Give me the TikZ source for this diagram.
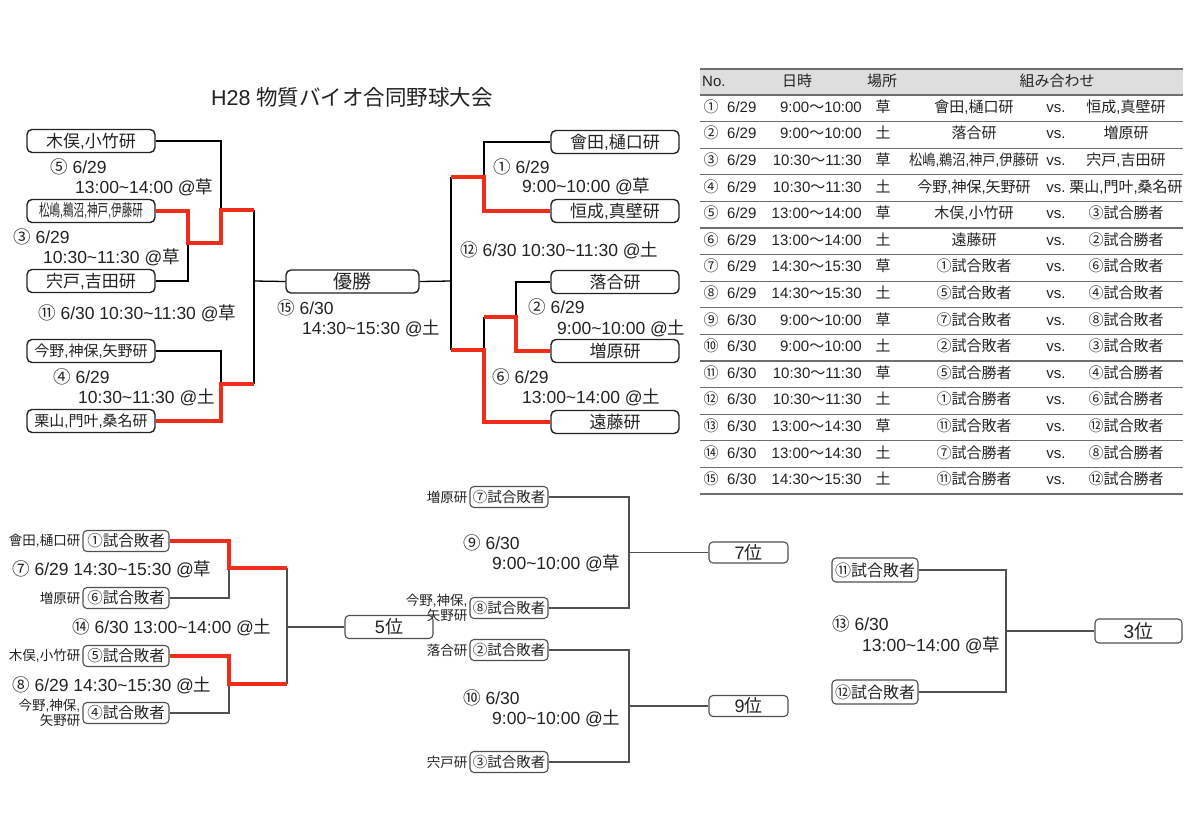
\documentclass[tikz,border=0pt]{standalone}
\usepackage{fontspec}
\setmainfont{Liberation Sans}
\newfontfamily\jfont{Noto Sans CJK JP}
% switch to the Japanese font for CJK characters
\newXeTeXintercharclass\jclass
\newcount\cjkc
\cjkc="2460 \loop \XeTeXcharclass\cjkc=\jclass \advance\cjkc by 1 \ifnum\cjkc<"2500 \repeat
\cjkc="3000 \loop \XeTeXcharclass\cjkc=\jclass \advance\cjkc by 1 \ifnum\cjkc<"A000 \repeat
\cjkc="FF00 \loop \XeTeXcharclass\cjkc=\jclass \advance\cjkc by 1 \ifnum\cjkc<"FFF0 \repeat
\XeTeXinterchartoks 0 \jclass = {\jfont}
\XeTeXinterchartoks 4095 \jclass = {\jfont}
\XeTeXinterchartoks \jclass 0 = {\rmfamily}
\XeTeXinterchartoks \jclass 4095 = {\rmfamily}
\XeTeXinterchartokenstate=1
\usepackage{tikz}
\definecolor{inkgray}{RGB}{35,35,35}
\definecolor{wiregray}{RGB}{80,80,80}
\definecolor{winred}{RGB}{240,45,25}
\definecolor{rulegray}{RGB}{110,110,110}
\definecolor{headgray}{RGB}{222,222,222}
\newcommand\fsz[1]{\fontsize{#1}{#1}\selectfont}
\newcommand\tld{\textasciitilde}
\tikzset{
  team/.style={draw=inkgray, line width=1.4pt, rounded corners=5pt, minimum width=128pt, minimum height=23pt, inner sep=0pt, font=\fsz{17}},
  loser/.style={draw=wiregray, line width=1.1pt, rounded corners=4pt, minimum width=86pt, minimum height=21pt, inner sep=0pt, font=\fsz{15.5}},
  rank/.style={loser, minimum width=80pt, minimum height=21pt, font=\fsz{18}},
  info/.style={anchor=west, inner sep=0pt, font=\fsz{17.5}},
  tag/.style={anchor=east, inner sep=2pt, align=right, font=\fontsize{13.5}{15}\selectfont},
  cell/.style={inner sep=0pt, font=\fsz{15}, text height=11pt, text depth=3pt},
  wire/.style={draw=black, line width=1.3pt},
  thinwire/.style={draw=wiregray, line width=1.2pt},
  winwire/.style={draw=winred, line width=4pt}
}

\begin{document}
\begin{tikzpicture}[x=1pt, y=-1pt, color=inkgray]
\fill[white] (0,0) rectangle (1200,831);
\useasboundingbox (0,0) rectangle (1200,831);

% Title
\node[font=\fsz{21.5}] (title) at (352,97) {H28 物質バイオ合同野球大会};

% Main bracket, left half
\node[team] (kimata) at (91,141) {木俣,小竹研};
\node[team] (matsushima) at (91,211) {\scalebox{0.64}[1]{\fsz{16.5}松嶋,鵜沼,神戸,伊藤研}};
\node[team] (shishido) at (91,281) {宍戸,吉田研};
\node[team, font=\fsz{15}] (konno) at (91,351) {今野,神保,矢野研};
\node[team, font=\fsz{15}] (kuriyama) at (91,421) {栗山,門叶,桑名研};
\node[team, minimum width=133pt, font=\fsz{19}] (champ) at (352.5,281.5) {優勝};

% Main bracket, right half
\node[team] (aida) at (615,142) {會田,樋口研};
\node[team] (tsunenari) at (615,211) {恒成,真壁研};
\node[team] (ochiai) at (615,282) {落合研};
\node[team] (masuhara) at (615,351) {増原研};
\node[team] (endo) at (615,422) {遠藤研};

% Joints
\coordinate (m3) at (188,243);
\coordinate (m5) at (221,210);
\coordinate (m4) at (221,384);
\coordinate (m11) at (254,281);
\coordinate (m1) at (484,177);
\coordinate (m2) at (516,317);
\coordinate (m6) at (484,350);
\coordinate (m12) at (451,281);

\draw[wire] (kimata.east) -| (m5);
\draw[wire] (shishido.east) -| (m3);
\draw[wire] (konno.east) -| (m4);
\draw[wire] (m5 -| m11) -- (m4 -| m11);
\draw[wire] (m11) -- (champ.west);
\draw[wire] (aida.west) -| (m1);
\draw[wire] (ochiai.west) -| (m2);
\draw[wire] (m2 -| m6) -- (m6);
\draw[wire] (m1 -| m12) -- (m6 -| m12);
\draw[wire] (champ.east) -- (m12);

% Winners
\draw[winwire] (matsushima.east) -| (m3) -| (m5) -- (m5 -| m11);
\draw[winwire] (kuriyama.east) -| (m4) -- (m4 -| m11);
\draw[winwire] (tsunenari.west) -| (m1) -- (m1 -| m12);
\draw[winwire] (masuhara.west) -| (m2) -- (m2 -| m6);
\draw[winwire] (endo.west) -| (m6) -- (m6 -| m12);

% Game labels
\node[info] (l5a) at (50,167) {⑤ 6/29};
\node[info] (l5b) at (75,187) {13:00\tld14:00 @草};
\node[info] (l3a) at (13,237) {③ 6/29};
\node[info] (l3b) at (43,257) {10:30\tld11:30 @草};
\node[info] (l11) at (38,313) {⑪ 6/30 10:30\tld11:30 @草};
\node[info] (l4a) at (53,377) {④ 6/29};
\node[info] (l4b) at (78,397) {10:30\tld11:30 @土};
\node[info] (l15a) at (277,308) {⑮ 6/30};
\node[info] (l15b) at (302,328) {14:30\tld15:30 @土};
\node[info] (l1a) at (493,167) {① 6/29};
\node[info] (l1b) at (522,186) {9:00\tld10:00 @草};
\node[info] (l12) at (460,250) {⑫ 6/30 10:30\tld11:30 @土};
\node[info] (l2a) at (528,307) {② 6/29};
\node[info] (l2b) at (557,328) {9:00\tld10:00 @土};
\node[info] (l6a) at (492,377) {⑥ 6/29};
\node[info] (l6b) at (522,397) {13:00\tld14:00 @土};

% Table
\fill[headgray] (700,69) rectangle (1183,95);
\draw[rulegray, line width=1.5pt] (700,69) -- (1183,69);
\foreach \k in {0,...,15} {
  \draw[rulegray, line width=1.2pt] (700,95+26.6*\k) -- (1183,95+26.6*\k);
}
\node[cell, anchor=west] (hno) at (702,82) {No.};
\node[cell] (hdate) at (797,82) {日時};
\node[cell] (hfield) at (882,82) {場所};
\node[cell] (hmatch) at (1057,82) {組み合わせ};
\foreach \n/\d/\t/\p/\a/\b [count=\i] in {
  ①/{6/29}/{9:00〜10:00}/草/{會田,樋口研}/{恒成,真壁研},
  ②/{6/29}/{9:00〜10:00}/土/落合研/増原研,
  ③/{6/29}/{10:30〜11:30}/草/{\scalebox{0.88}[1]{松嶋,鵜沼,神戸,伊藤研}}/{宍戸,吉田研},
  ④/{6/29}/{10:30〜11:30}/土/{今野,神保,矢野研}/{栗山,門叶,桑名研},
  ⑤/{6/29}/{13:00〜14:00}/草/{木俣,小竹研}/③試合勝者,
  ⑥/{6/29}/{13:00〜14:00}/土/遠藤研/②試合勝者,
  ⑦/{6/29}/{14:30〜15:30}/草/①試合敗者/⑥試合敗者,
  ⑧/{6/29}/{14:30〜15:30}/土/⑤試合敗者/④試合敗者,
  ⑨/{6/30}/{9:00〜10:00}/草/⑦試合敗者/⑧試合敗者,
  ⑩/{6/30}/{9:00〜10:00}/土/②試合敗者/③試合敗者,
  ⑪/{6/30}/{10:30〜11:30}/草/⑤試合勝者/④試合勝者,
  ⑫/{6/30}/{10:30〜11:30}/土/①試合勝者/⑥試合勝者,
  ⑬/{6/30}/{13:00〜14:30}/草/⑪試合敗者/⑫試合敗者,
  ⑭/{6/30}/{13:00〜14:30}/土/⑦試合勝者/⑧試合勝者,
  ⑮/{6/30}/{14:30〜15:30}/土/⑪試合勝者/⑫試合勝者} {
  \pgfmathsetmacro\ry{95+26.6*(\i-0.5)}
  \node[cell] (no\i) at (711,\ry) {\n};
  \node[cell, anchor=west] (date\i) at (727,\ry) {\d};
  \node[cell, anchor=east] (time\i) at (862,\ry) {\t};
  \node[cell] (field\i) at (883,\ry) {\p};
  \node[cell] (home\i) at (974,\ry) {\a};
  \node[cell] (vs\i) at (1056,\ry) {vs.};
  \node[cell] (away\i) at (1126,\ry) {\b};
}

% 5th place bracket
\node[loser] (lose1) at (126,541) {①試合敗者};
\node[loser] (lose6) at (126,598) {⑥試合敗者};
\node[loser] (lose5) at (126,656) {⑤試合敗者};
\node[loser] (lose4) at (126,713) {④試合敗者};
\node[tag] (t1) at (lose1.west) {會田,樋口研};
\node[tag] (t6) at (lose6.west) {増原研};
\node[tag] (t5) at (lose5.west) {木俣,小竹研};
\node[tag] (t4) at (lose4.west) {今野,神保,\\矢野研};
\node[rank, minimum width=88pt, minimum height=23pt] (fifth) at (389,627) {5位};
\coordinate (m7) at (229,568);
\coordinate (m8) at (229,684);
\coordinate (m14) at (287,627);
\draw[thinwire] (lose6.east) -| (m7);
\draw[thinwire] (lose4.east) -| (m8);
\draw[thinwire] (m7 -| m14) -- (m8 -| m14);
\draw[thinwire] (m14) -- (fifth.west);
\draw[winwire] (lose1.east) -| (m7) -- (m7 -| m14);
\draw[winwire] (lose5.east) -| (m8) -- (m8 -| m14);
\node[info] (l7) at (12,569) {⑦ 6/29 14:30\tld15:30 @草};
\node[info] (l14) at (72,627) {⑭ 6/30 13:00\tld14:00 @土};
\node[info] (l8) at (12,685) {⑧ 6/29 14:30\tld15:30 @土};

% 7th and 9th place
\node[loser, minimum width=78pt, font=\fsz{14.5}] (lose7) at (509,497) {⑦試合敗者};
\node[loser, minimum width=78pt, font=\fsz{14.5}] (lose8) at (509,608) {⑧試合敗者};
\node[loser, minimum width=78pt, font=\fsz{14.5}] (lose2) at (509,650) {②試合敗者};
\node[loser, minimum width=78pt, font=\fsz{14.5}] (lose3) at (509,762) {③試合敗者};
\node[tag] (t7) at (lose7.west) {増原研};
\node[tag] (t8) at (lose8.west) {今野,神保,\\矢野研};
\node[tag] (t2) at (lose2.west) {落合研};
\node[tag] (t3) at (lose3.west) {宍戸研};
\node[rank, minimum width=79pt] (seventh) at (748.5,552.5) {7位};
\node[rank, minimum width=79pt] (ninth) at (748.5,706) {9位};
\coordinate (m9) at (629,552.5);
\coordinate (m10) at (629,706);
\draw[thinwire] (lose7.east) -| (m9);
\draw[thinwire] (lose8.east) -| (m9);
\draw[thinwire] (m9) -- (seventh.west);
\draw[thinwire] (lose2.east) -| (m10);
\draw[thinwire] (lose3.east) -| (m10);
\draw[thinwire] (m10) -- (ninth.west);
\node[info] (l9a) at (463,543) {⑨ 6/30};
\node[info] (l9b) at (492,563) {9:00\tld10:00 @草};
\node[info] (l10a) at (463,698) {⑩ 6/30};
\node[info] (l10b) at (492,718) {9:00\tld10:00 @土};

% 3rd place
\node[loser, minimum height=24pt, font=\fsz{16}] (lose11) at (875,570) {⑪試合敗者};
\node[loser, minimum height=24pt, font=\fsz{16}] (lose12) at (875,692) {⑫試合敗者};
\node[rank, minimum width=87pt, minimum height=24pt, font=\fsz{19}] (third) at (1138.5,631) {3位};
\coordinate (m13) at (1006,631);
\draw[thinwire] (lose11.east) -| (m13);
\draw[thinwire] (lose12.east) -| (m13);
\draw[thinwire] (m13) -- (third.west);
\node[info] (l13a) at (832,624) {⑬ 6/30};
\node[info] (l13b) at (862,645) {13:00\tld14:00 @草};

\end{tikzpicture}
\end{document}
